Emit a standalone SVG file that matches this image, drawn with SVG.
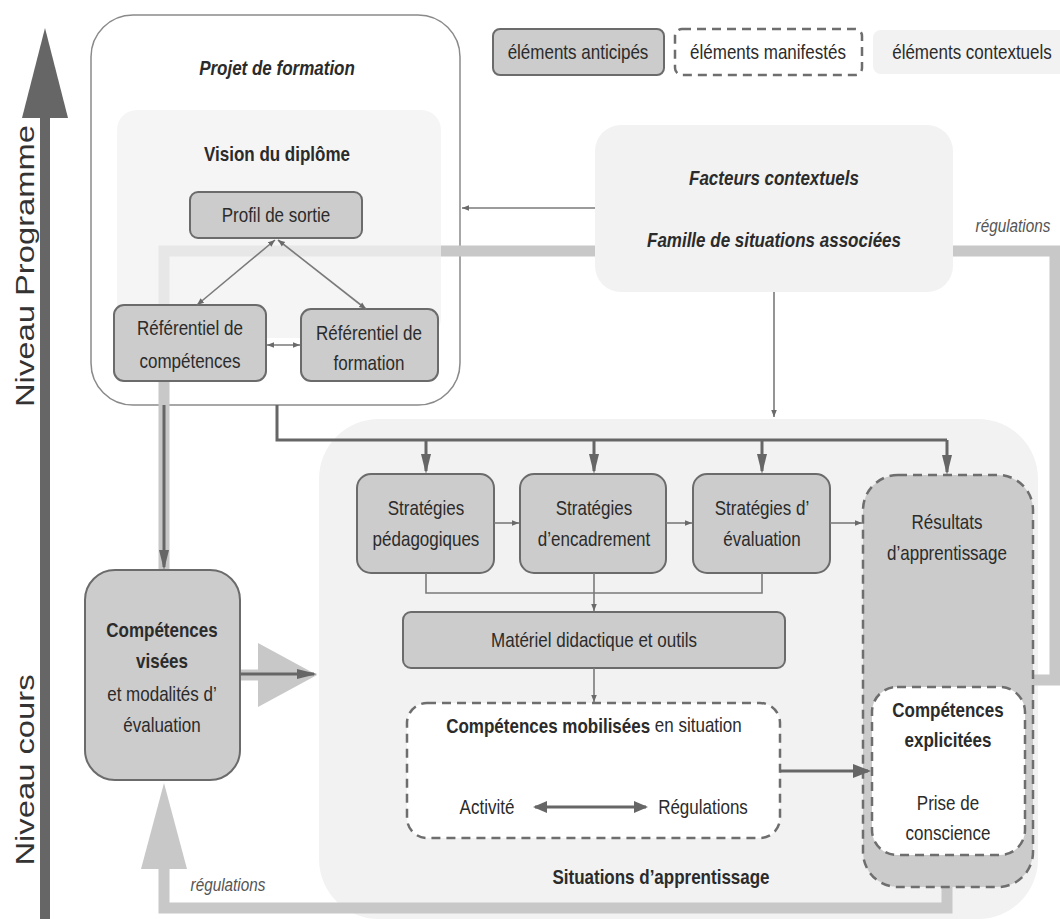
<svg xmlns="http://www.w3.org/2000/svg" width="1060" height="919" viewBox="0 0 1060 919">
<defs>
<style>
text{font-family:"Liberation Sans",Arial,sans-serif;fill:#2b2b2b;}
.t{font-size:20px;text-anchor:middle;dominant-baseline:central;transform-box:fill-box;transform-origin:center;transform:scaleX(0.85);}
.b{font-weight:bold;}
.i{font-style:italic;}
.reg{font-size:18px;fill:#555;}
.lvl{font-size:26px;fill:#333;text-anchor:middle;}
.node{fill:#cccccc;stroke:#6b6b6b;stroke-width:2;}
.dash{stroke:#6e6e6e;stroke-width:2.5;stroke-dasharray:9 6;}
.ctx{fill:#f2f2f2;}
.thin{fill:none;stroke:#7a7a7a;stroke-width:1.6;}
.thick{fill:none;stroke:#666;stroke-width:3;}
.band{fill:none;stroke:#c8c8c8;stroke-width:11;}
.bandf{fill:#c8c8c8;}
</style>
<marker id="as" viewBox="0 0 10 10" refX="10" refY="5" markerWidth="7" markerHeight="7" markerUnits="userSpaceOnUse" orient="auto-start-reverse"><path d="M0,1 L10,5 L0,9 z" fill="#6a6a6a"/></marker>
<marker id="am" viewBox="0 0 20 10" refX="17" refY="5" markerWidth="20" markerHeight="10" markerUnits="userSpaceOnUse" orient="auto"><path d="M0,0 L20,5 L0,10 z" fill="#666"/></marker>
<marker id="ab" viewBox="0 0 18 14" refX="15" refY="7" markerWidth="18" markerHeight="14" markerUnits="userSpaceOnUse" orient="auto"><path d="M0,0 L18,7 L0,14 z" fill="#666"/></marker>
<marker id="ad" viewBox="0 0 14 12" refX="12" refY="6" markerWidth="14" markerHeight="12" markerUnits="userSpaceOnUse" orient="auto-start-reverse"><path d="M0,0 L14,6 L0,12 z" fill="#666"/></marker>
</defs>

<g id="axe-niveaux">
<rect x="40" y="110" width="10" height="809" fill="#666"/>
<polygon points="22,118 45,28 68,118" fill="#666"/>
<text class="lvl" transform="translate(34,266) rotate(-90) scale(1.26,1)">Niveau Programme</text>
<text class="lvl" transform="translate(34,770) rotate(-90) scale(1.26,1)">Niveau cours</text>
</g>

<g id="situations-apprentissage">
<rect x="319" y="419" width="719" height="500" rx="60" class="ctx"/>
<text class="t b" x="661" y="877">Situations d’apprentissage</text>
</g>

<g id="projet-formation">
<rect x="91" y="15" width="369" height="390" rx="42" fill="#fff" stroke="#8a8a8a" stroke-width="1.5"/>
<text class="t b i" x="277" y="68">Projet de formation</text>
</g>

<g id="connectors-regulations">
<path class="band" d="M1033 680 H1055 V251 H164 V570"/>
<path class="band" d="M947 887 V908 H164 V866"/>
<polygon class="bandf" points="141,869 164,783 187,869"/>
<path class="band" d="M240 675 H262" stroke-width="14"/>
<polygon class="bandf" points="258,643 317,675 258,707"/>
<text class="t i reg" x="1013" y="226">régulations</text>
<text class="t i reg" x="228" y="885">régulations</text>
</g>

<g id="vision-diplome">
<rect x="117" y="110" width="324" height="228" rx="20" fill="#f2f2f2" fill-opacity="0.75"/>
<text class="t b" x="277" y="154">Vision du diplôme</text>
</g>

<g id="facteurs-contextuels">
<rect x="595" y="125" width="358" height="167" rx="26" class="ctx"/>
<text class="t b i" x="774" y="178">Facteurs contextuels</text>
<text class="t b i" x="774" y="240">Famille de situations associées</text>
</g>

<g id="legende">
<g id="legende-anticipes">
<rect x="493" y="29" width="171" height="46" rx="7" class="node"/>
<text class="t" x="578" y="52">éléments anticipés</text>
</g>
<g id="legende-manifestes">
<rect x="675" y="29" width="187" height="46" rx="7" fill="#fff" class="dash"/>
<text class="t" x="768" y="52">éléments manifestés</text>
</g>
<g id="legende-contextuels">
<rect x="873" y="30" width="200" height="44" rx="8" class="ctx"/>
<text class="t" x="972" y="52">éléments contextuels</text>
</g>
</g>

<g id="profil-sortie">
<rect x="190" y="192" width="172" height="46" rx="8" class="node"/>
<text class="t" x="276" y="215">Profil de sortie</text>
</g>

<g id="referentiel-competences">
<rect x="114" y="305" width="152" height="76" rx="10" class="node"/>
<text class="t" x="190" y="328">Référentiel de</text>
<text class="t" x="190" y="361">compétences</text>
</g>

<g id="referentiel-formation">
<rect x="301" y="309" width="137" height="72" rx="10" class="node"/>
<text class="t" x="369" y="333">Référentiel de</text>
<text class="t" x="369" y="363">formation</text>
</g>

<g id="competences-visees">
<rect x="85" y="570" width="155" height="210" rx="30" class="node"/>
<text class="t b" x="162" y="630">Compétences</text>
<text class="t b" x="162" y="661">visées</text>
<text class="t" x="162" y="694">et modalités d’</text>
<text class="t" x="162" y="725">évaluation</text>
</g>

<g id="strategies-pedagogiques">
<rect x="357" y="474" width="137" height="99" rx="14" class="node"/>
<text class="t" x="426" y="508">Stratégies</text>
<text class="t" x="426" y="539">pédagogiques</text>
</g>

<g id="strategies-encadrement">
<rect x="520" y="474" width="146" height="99" rx="14" class="node"/>
<text class="t" x="594" y="508">Stratégies</text>
<text class="t" x="594" y="539">d’encadrement</text>
</g>

<g id="strategies-evaluation">
<rect x="693" y="474" width="137" height="99" rx="14" class="node"/>
<text class="t" x="762" y="508">Stratégies d’</text>
<text class="t" x="762" y="539">évaluation</text>
</g>

<g id="materiel-didactique">
<rect x="403" y="612" width="382" height="56" rx="8" class="node"/>
<text class="t" x="594" y="640">Matériel didactique et outils</text>
</g>

<g id="competences-mobilisees">
<rect x="407" y="703" width="373" height="135" rx="20" fill="#fff" class="dash"/>
<text class="t" x="594" y="725"><tspan class="b">Compétences mobilisées</tspan> en situation</text>
<text class="t" x="487" y="807">Activité</text>
<text class="t" x="703" y="807">Régulations</text>
</g>

<g id="resultats-apprentissage">
<rect x="863" y="475" width="170" height="412" rx="35" fill="#cbcbcb" class="dash"/>
<text class="t" x="947" y="522">Résultats</text>
<text class="t" x="947" y="553">d’apprentissage</text>
</g>

<g id="competences-explicitees">
<rect x="872" y="687" width="153" height="168" rx="25" fill="#fff" class="dash"/>
<text class="t b" x="948" y="710">Compétences</text>
<text class="t b" x="948" y="740">explicitées</text>
<text class="t" x="948" y="803">Prise de</text>
<text class="t" x="948" y="833">conscience</text>
</g>

<g id="connectors">
<path class="thin" d="M595 208 H462" marker-end="url(#as)"/>
<path class="thin" d="M774 292 V417" marker-end="url(#as)"/>
<path class="thin" d="M275 240 L197 305" marker-start="url(#as)" marker-end="url(#as)"/>
<path class="thin" d="M278 240 L366 309" marker-start="url(#as)" marker-end="url(#as)"/>
<path class="thin" d="M267 345 H300" marker-start="url(#as)" marker-end="url(#as)"/>
<path class="thin" d="M494 523 H519" marker-end="url(#as)"/>
<path class="thin" d="M666 523 H692" marker-end="url(#as)"/>
<path class="thin" d="M830 523 H862" marker-end="url(#as)"/>
<path class="thin" d="M426 573 V593 H762 V573"/>
<path class="thin" d="M594 573 V611" marker-end="url(#as)"/>
<path class="thin" d="M594 668 V702" marker-end="url(#as)"/>
<path class="thick" d="M277 405 V440 H947"/>
<path class="thick" d="M426 440 V471" marker-end="url(#am)"/>
<path class="thick" d="M594 440 V471" marker-end="url(#am)"/>
<path class="thick" d="M762 440 V471" marker-end="url(#am)"/>
<path class="thick" d="M947 440 V472" marker-end="url(#am)"/>
<path class="thick" d="M164 405 V567" marker-end="url(#am)"/>
<path class="thick" d="M240 674 H314" marker-end="url(#am)"/>
<path class="thick" d="M780 771 H868" marker-end="url(#ab)"/>
<path class="thick" d="M535 807 H646" marker-start="url(#ad)" marker-end="url(#ad)"/>
</g>
</svg>
